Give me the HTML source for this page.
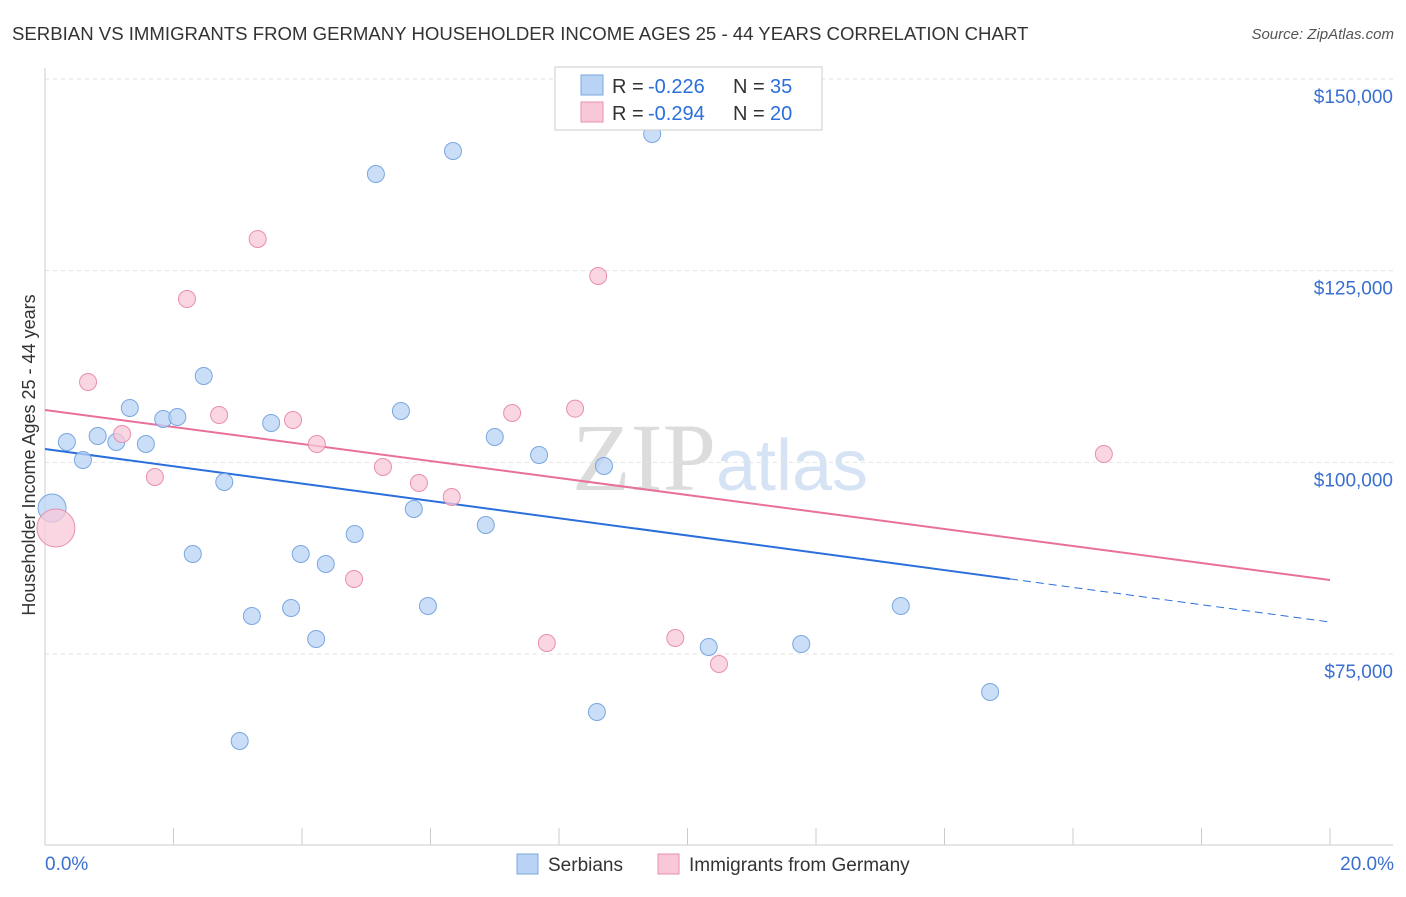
<!DOCTYPE html>
<html><head><meta charset="utf-8"><style>
body{margin:0;background:#fff;font-family:"Liberation Sans",sans-serif;}
svg text{font-family:"Liberation Sans",sans-serif;}
</style></head><body>
<svg id="chart" width="1406" height="892">
<text x="12" y="40" font-size="18.6" fill="#333">SERBIAN VS IMMIGRANTS FROM GERMANY HOUSEHOLDER INCOME AGES 25 - 44 YEARS CORRELATION CHART</text>
<text x="1394" y="39" font-size="15" fill="#555" text-anchor="end" font-style="italic">Source: ZipAtlas.com</text>
<text x="35" y="455" font-size="18" fill="#333" text-anchor="middle" transform="rotate(-90 35 455)">Householder Income Ages 25 - 44 years</text>
<text x="720" y="490" font-size="96" fill="#e6e6e6" text-anchor="middle" font-family="Liberation Serif"><tspan font-family="Liberation Serif" fill="#dcdcdc">ZIP</tspan><tspan font-size="72" fill="#d5e3f5" font-family="Liberation Sans">atlas</tspan></text>
<g id="grid"></g><g id="axes"></g><g id="lines"></g><g id="points"></g>
<g>
<rect x="555" y="67" width="267" height="63" fill="#fff" stroke="#ccc"/>
<rect x="581" y="75" width="22" height="20" fill="#b9d3f5" stroke="#7aa7e0"/>
<text x="612" y="93" font-size="20" fill="#333">R = </text><text x="648" y="93" font-size="20" fill="#2a6fdb">-0.226</text>
<text x="733" y="93" font-size="20" fill="#333">N = </text><text x="770" y="93" font-size="20" fill="#2a6fdb">35</text>
<rect x="581" y="102" width="22" height="20" fill="#f8c8d8" stroke="#e88fae"/>
<text x="612" y="120" font-size="20" fill="#333">R = </text><text x="648" y="120" font-size="20" fill="#2a6fdb">-0.294</text>
<text x="733" y="120" font-size="20" fill="#333">N = </text><text x="770" y="120" font-size="20" fill="#2a6fdb">20</text>
</g>
<g>
<rect x="517" y="854" width="21" height="20" fill="#b9d3f5" stroke="#7aa7e0"/>
<text x="548" y="871" font-size="19" fill="#333">Serbians</text>
<rect x="658" y="854" width="21" height="20" fill="#f8c8d8" stroke="#e88fae"/>
<text x="689" y="871" font-size="19" fill="#333">Immigrants from Germany</text>
</g>
</svg>
<script>
const yTicks=[75000,100000,125000,150000];
const yTickLabels=["$75,000","$100,000","$125,000","$150,000"];
const xTickLabels=["0.0%","20.0%"];
const serbX=[0.11,0.34,0.59,0.82,1.11,1.32,1.57,1.84,2.06,2.30,2.47,2.79,3.22,3.03,3.52,3.83,3.98,4.22,4.37,4.82,5.15,5.54,5.74,5.96,6.35,6.86,7.00,7.69,8.59,8.70,9.45,10.33,11.77,13.32,14.71];
const serbY=[94045,102654,100307,103437,102654,107089,102393,105654,105915,88046,111263,97437,79959,63654,105132,81002,88046,76959,86741,90654,137609,106698,93915,81263,140609,91828,103307,100959,67437,99524,142826,75915,76307,81263,70046];
const gerX=[0.17,0.67,1.20,1.71,2.21,2.71,3.31,3.86,4.23,4.81,5.26,5.82,6.33,7.27,7.81,8.25,8.61,9.81,10.49,16.48];
const gerY=[91437,110480,103698,98089,121306,106176,129131,105524,102393,84785,99393,97306,95480,106437,76437,107002,124305,77089,73698,101089];
const serbTrend=[101739,79174]; const serbSolidEnd=15.02;
const gerTrend=[106826,84652];
const NS="http://www.w3.org/2000/svg";
const xs=v=>45+v/20*1285;
const ys=v=>79+(150000-v)/25000*191.67;
function mk(tag,attrs,parent){const e=document.createElementNS(NS,tag);for(const k in attrs)e.setAttribute(k,attrs[k]);document.getElementById(parent).appendChild(e);return e;}
yTicks.forEach((t,i)=>{
 const l=mk('line',{x1:45,x2:1393,y1:ys(t),y2:ys(t),stroke:'#e2e2e2','stroke-dasharray':'4,4'},'grid');
 
 
 const tx=mk('text',{x:1393,y:ys(t)+24,'font-size':19,fill:'#3a6fd0','text-anchor':'end'},'axes');
 tx.textContent=yTickLabels[i];
 
 
});
let g=mk('line',{x1:45,x2:1393,y1:845,y2:845,stroke:'#ccc'},'axes');


g=mk('line',{x1:45,x2:45,y1:68,y2:845,stroke:'#ccc'},'axes');


for(let i=1;i<=10;i++){const t=mk('line',{x1:xs(i*2),x2:xs(i*2),y1:828,y2:845,stroke:'#ccc'},'axes');
 
 }
[[45,'start'],[1394,'end']].forEach((p,i)=>{const t=mk('text',{x:p[0],y:870,'font-size':19,fill:'#3a6fd0','text-anchor':p[1]},'axes');t.textContent=xTickLabels[i];
 
 });
const slope=(serbTrend[1]-serbTrend[0])/20;
let l=mk('line',{x1:xs(0),y1:ys(serbTrend[0]),x2:xs(serbSolidEnd),y2:ys(serbTrend[0]+slope*serbSolidEnd),stroke:'#2a6fdb','stroke-width':2},'lines');


l=mk('line',{x1:xs(serbSolidEnd),y1:ys(serbTrend[0]+slope*serbSolidEnd),x2:xs(20),y2:ys(serbTrend[1]),stroke:'#2a6fdb','stroke-width':1,'stroke-dasharray':'8,5'},'lines');


l=mk('line',{x1:xs(0),y1:ys(gerTrend[0]),x2:xs(20),y2:ys(gerTrend[1]),stroke:'#e8709a','stroke-width':2},'lines');


serbX.forEach((x,i)=>{const c=mk('circle',{cx:xs(x),cy:ys(serbY[i]),r:i==0?14:8.5,fill:'#b9d3f5','fill-opacity':0.75,stroke:'#7aa7e0'},'points');
 
 });
gerX.forEach((x,i)=>{const c=mk('circle',{cx:xs(x),cy:ys(gerY[i]),r:i==0?19:8.5,fill:'#f8c8d8','fill-opacity':0.75,stroke:'#e88fae'},'points');
 
 });
</script>
</body></html>
